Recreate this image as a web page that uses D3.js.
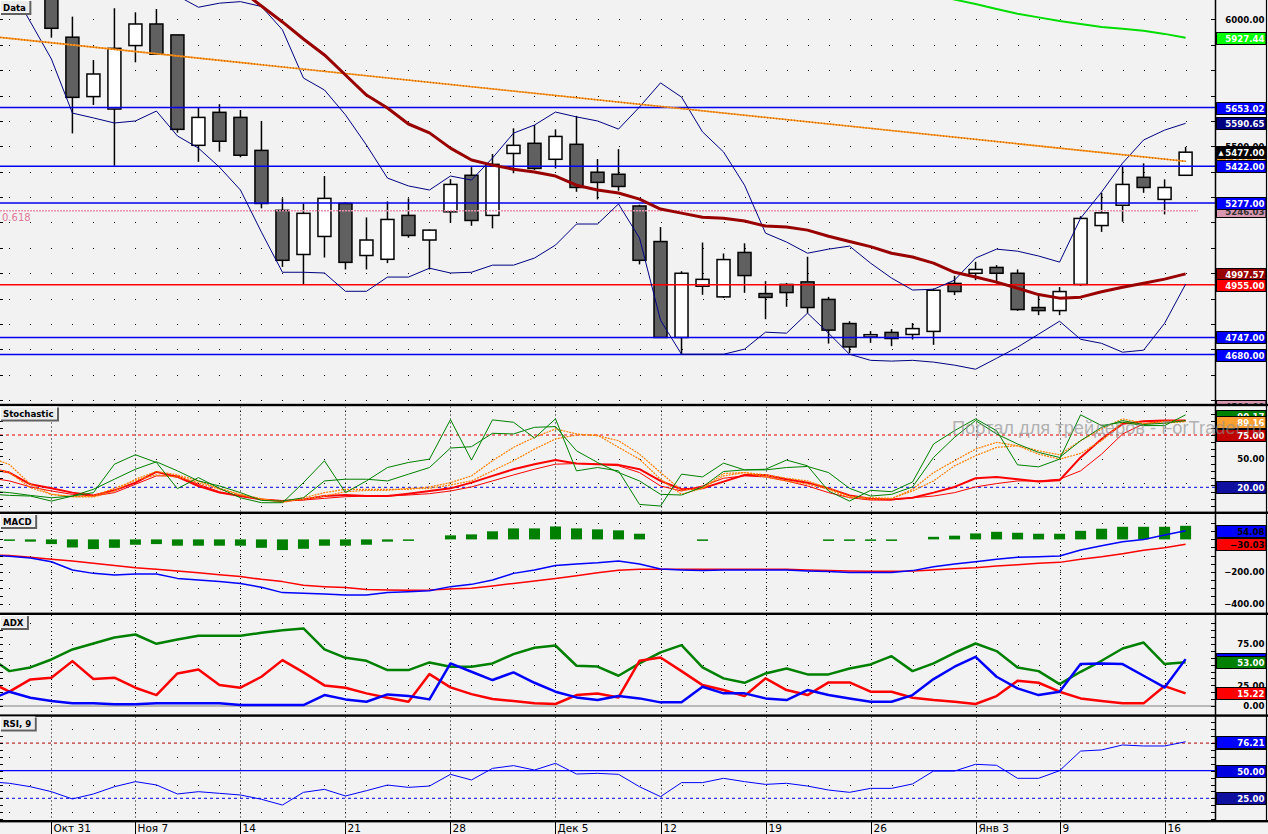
<!DOCTYPE html>
<html><head><meta charset="utf-8">
<script src="https://cdn.jsdelivr.net/npm/d3@7/dist/d3.min.js"></script>
<style>html,body{margin:0;padding:0;background:#f2f2f2;overflow:hidden}svg{display:block}</style>
</head><body>
<svg id="chart" width="1268" height="834"></svg>
<script>
const N = null;
// ---------- DATA ----------
const dates = ["10-26","10-27","10-28","10-31","11-01","11-02","11-03",
"11-07","11-08","11-09","11-10","11-11","11-14","11-15","11-16","11-17","11-18",
"11-21","11-22","11-23","11-24","11-25","11-28","11-29","11-30","12-01","12-02",
"12-05","12-06","12-07","12-08","12-09","12-12","12-13","12-14","12-15","12-16",
"12-19","12-20","12-21","12-22","12-23","12-26","12-27","12-28","12-29","12-30",
"01-03","01-04","01-05","01-06","01-09","01-10","01-11","01-12","01-13","01-16","01-17"];
const tickDates = ["10-31","11-07","11-14","11-21","11-28","12-05","12-12","12-19","12-26","01-03","01-09","01-16"];
const tickLabels = ["Окт 31","Ноя 7","14","21","28","Дек 5","12","19","26","Янв 3","9","16"];

const openP = [N,N,N,6150,5930,5696,5647,5897,5982,5939,5504,5634,5614,5484,5248,5074,5145,5275,5070,5055,5228,5131,5242,5386,5228,5472,5512,5449,5508,5398,5390,5265,5125,4747,4949,4907,5082,4920,4956,4966,4897,4802,4749,4767,4759,4771,4960,5000,5023,5000,4865,4853,4956,5188,5268,5378,5291,5386];
const highP = [N,N,N,6200,6011,5840,6044,6028,6041,5939,5654,5666,5643,5600,5295,5275,5383,5280,5220,5283,5295,5172,5371,5418,5470,5571,5584,5567,5620,5450,5489,5270,5182,5008,5121,5078,5118,4969,4962,5065,4907,4811,4772,4780,4804,4940,4990,5045,5032,5015,4914,4946,5225,5317,5420,5433,5370,5498];
const lowP = [N,N,N,5928,5551,5663,5424,5831,5860,5554,5439,5479,5457,5256,5025,4957,5062,5015,5015,5040,5140,5015,5199,5187,5177,5394,5407,5413,5321,5291,5325,5035,4747,4680,4915,4903,4923,4819,4868,4842,4723,4686,4726,4713,4739,4718,4914,4973,4960,4852,4835,4835,4950,5163,5203,5317,5232,5386];
const closeP = [N,N,N,5965,5693,5785,5886,5982,5863,5567,5614,5520,5465,5275,5051,5236,5295,5043,5131,5212,5149,5170,5350,5208,5429,5504,5413,5539,5338,5358,5342,5051,4747,5000,4976,5054,4991,4905,4924,4865,4776,4710,4758,4743,4782,4933,4928,5015,5000,4857,4853,4928,5216,5238,5350,5338,5338,5477];

const maRed = [N,N,N,N,N,N,N,N,N,N,N,N,6116,6053,5990,5923,5860,5781,5702,5651,5588,5553,5493,5446,5426,5410,5399,5383,5347,5328,5316,5292,5253,5237,5221,5217,5206,5186,5182,5170,5146,5125,5105,5079,5064,5040,5004,4985,4965,4941,4916,4902,4906,4927,4945,4961,4977,4997.57];
const bbUpper = [N,N,N,N,N,N,N,N,N,6093,6048,6064,6070,6051,5959,5769,5722,5624,5505,5375,5344,5328,5383,5367,5454,5552,5584,5635,5616,5600,5568,5655,5750,5694,5557,5478,5347,5158,5123,5079,5095,5107,5040,4981,4934,4937,4973,5060,5095,5087,5068,5044,5217,5320,5434,5525,5564,5590.65];
const bbLower = [N,6136,5990,5844,5631,5612,5592,5600,5639,5541,5493,5418,5328,5162,5004,5004,5001,4929,4929,4985,4985,5020,5001,5004,5032,5032,5060,5111,5194,5194,5273,5139,4815,4681,4681,4681,4701,4768,4764,4843,4764,4681,4657,4654,4657,4650,4638,4622,4665,4709,4760,4811,4740,4724,4689,4697,4803,4957];
const maGreen = [N,N,N,N,N,N,N,N,N,N,N,N,N,N,N,N,N,N,N,N,N,N,N,N,N,N,N,N,N,N,N,N,N,N,N,N,N,N,N,N,N,N,N,N,N,6100,6078,6061,6041,6022,6008,5994,5982,5970,5963,5955,5943,5927.44];
const trendDates = ["10-26","01-17"];
const trendValues = [5934, 5441];
const levelValues = [5653.02, 5422, 5277, 4955, 4747, 4680];
const fibValue = 5246.03, fibText = "0.618", fibLowValue = 4500;

const stochK1 = [13,11.5,10.8,5.5,10.8,14.4,44.3,54.2,46.1,18.6,30.2,18.9,9,3.8,3.8,24.9,47.9,14.4,26.7,40.8,46.1,49.6,91.2,48.6,90.9,88.4,71.8,92,37.3,40.8,37.3,2,0.3,33.8,30.9,45.4,38.3,39,48.6,42.6,16.1,5.5,16.8,15.4,25.6,65.5,79.6,92,79.6,43.6,41.5,49.6,96.2,84.9,88.4,84.9,84.9,96.2];
const stochD1 = [16,14.4,11.5,9,10.8,17.9,28.5,39,46.8,37.3,26.7,21.4,14.4,6.2,5.5,9,26.7,28.5,28.5,26.7,33.8,40.8,61.3,62.7,76.8,76.1,83.1,83.8,58.4,46.1,35.5,26.7,12.6,11.9,20.4,36.6,38.3,38.3,40.8,41.9,35.5,18.9,10.8,12.6,20.4,51.4,72.6,90.2,76.1,65.5,56.7,51.4,69,83.1,90.2,86,87.4,90.17];
const stochK2 = [52,44,23.2,12.6,10.1,9.8,16.1,28.5,36.6,33,26.7,18.9,12.6,8,3.8,9,14.4,17.9,17.9,17.9,17.9,20.4,24.9,32,47.9,62,72.6,81.4,76.1,74.3,69,54.9,35.5,16.8,18.9,34.5,35.5,33,29.5,26.7,18.9,10.8,7.3,8,17.9,35.5,47.9,60.2,67.3,63.8,58.4,54.2,69,81.4,92,87.4,87.4,89.16];
const stochD2 = [40,35.5,19.6,12.6,10.1,10.8,18.9,27.4,33,30.9,24.9,17.9,11.9,7.3,5.5,7.3,10.8,15.4,16.8,16.8,18.9,18.9,22.5,26.7,37.3,47.9,60.2,70.8,75,75,62,49.6,28.5,12.6,18.9,32,35.5,30.9,26.7,23.2,17.9,9.1,9.1,8.4,16.1,26.7,42.6,53.2,62,63.7,54.9,49.6,55.6,69,88.4,86.7,89.5,89.5];
const stochK3 = [40,35.5,23.2,18.9,14.4,11.5,16.8,24.9,36.2,30.9,21.4,14.4,10.8,7.3,5.5,7.3,10.8,11.9,10.8,10.8,13.3,16.1,18.9,24.9,32,39,44.3,48.6,45,44.3,43.6,39,26.7,17.9,18.9,26,33,33,28.5,24.9,18.9,11.5,8,7.3,9.1,14.4,20.4,29.5,30.9,28.5,26,27.4,51.4,70.8,86.7,89.5,90.2,90.2];
const stochD3 = [30,26.7,20.4,16.1,12.6,10.8,14.4,23.2,32,32,23.2,15.4,10.8,7.3,5.5,6.6,8.4,10.1,10.8,10.8,11.9,13.3,16.1,20.4,26.7,33,39,44.3,45,44.3,42.6,35.5,21.4,16.1,21.4,29.5,32,30.9,26.7,21.4,14.4,9.1,6.6,6.6,9.1,10.8,14.4,20.4,23.9,26.7,26.7,28.5,37.3,54.9,76.1,86.7,89.5,90.2];
const stochLevels = [75, 20];

const macdLine = [-96,-104,-115,-138,-189,-210,-220,-214,-214,-241,-251,-261,-272,-296,-329,-333,-337,-344,-344,-329,-323,-317,-292,-278,-251,-210,-189,-162,-152,-144,-133,-152,-183,-189,-193,-189,-189,-189,-189,-195,-199,-204,-204,-204,-193,-169,-152,-138,-123,-111,-107,-103,-65,-39,-14,0,27,54.08];
const macdSignal = [-94,-100,-111,-123,-133,-148,-162,-175,-185,-195,-206,-218,-230,-247,-261,-284,-292,-298,-309,-313,-315,-313,-307,-302,-288,-272,-257,-241,-224,-206,-191,-185,-185,-185,-185,-185,-185,-185,-185,-189,-193,-195,-197,-197,-195,-189,-181,-175,-164,-156,-148,-142,-123,-107,-88,-67,-51,-30.03];
const macdHist = [0,-3,-14,-29,-50,-60,-52,-33,-29,-39,-39,-39,-39,-52,-66,-58,-39,-39,-33,-14,-2,0,25,31,50,68,68,80,68,62,56,35,0,0,-2,0,0,0,0,0,-1,-4,-1,-1,0,16,23,37,47,41,35,35,53,66,78,78,78,84];

const adxLine = [60,42.2,46.7,56.3,68.4,75.6,82.9,86.5,75.2,80.5,84.9,84.9,84.9,88.5,91.7,93.8,68.4,58.3,54.7,43.4,43.4,52.7,47.5,47.5,51.5,62.8,70.4,73.2,48.7,47.7,36.6,51.5,64.8,73.6,46.7,33.4,28.1,39.4,45.4,38.2,38.2,45.4,50.3,60.3,42.2,51.5,64.4,75.6,66.4,46.7,42.2,26.5,41.4,54.7,69.6,76.8,50.7,53];
const diMinus = [30,17.3,32.2,34.2,54.3,32.6,34.2,22.1,13.2,39.4,44.2,25.3,22.1,35.4,55.5,40.6,24.9,22.1,15.3,10,5.2,38.6,22.5,14.4,8.4,6,3.2,2.4,13.2,15,10.4,54.7,58.7,42.2,25.3,19.3,12,33.4,19.3,13.2,28.5,28.5,17.3,17.3,10,7.2,5.2,2.4,12,30.5,28.1,17.3,9.2,6,3.2,3.2,24.1,15.22];
const diPlus = [7,17.3,10,6,3.2,3.2,2,2,3.2,3.2,3.2,3.2,1.2,1.2,1.2,1.2,13.2,8,5.2,14,12,8,51.5,41.4,31.4,40.6,28.1,17.3,10.4,7.2,12,9.2,4.4,4.4,23.3,15.3,15.3,9.2,7.2,19.3,13.2,9.2,5.2,5.2,13.2,32.6,47.5,59.5,35.4,21.3,13.2,17.3,50.7,51.5,50.7,36.6,22.5,56.7];

const rsi9 = [40.1,38.6,35.5,31,24.4,28.9,35.5,40.1,37.1,28.9,31,29.5,28,24.1,18.9,30.4,33.1,27.1,31.9,37,34.9,36.1,46.7,41.6,52.1,54.6,50.6,56.7,47,47.6,46.7,35.5,26.5,39.2,39.2,43.1,40.1,37.6,38.6,36.1,32.5,30.4,34,34,38,49.7,49.7,55.8,54.9,43.1,43.1,50,67.8,68.8,73.3,72.4,72.4,76.21];
const rsiLevels = [75, 50, 25];

const mainAxisValues = [6000, 5500, 5000];
const stochAxisValues = [50];
const macdAxisValues = [0, -200, -400];
const adxAxisValues = [0, 25, 50, 75];
const rsiAxisValues = [25, 50, 75];
const panelTitles = ["Data", "Stochastic", "MACD", "ADX", "RSI, 9"];
const watermark = "Портал для трейдеров - ForTrader.ru";

// ---------- RENDER ----------
const W = 1268, H = 834, PR = 1215;
const fmt = d3.format(".2f");
const last = a => a[a.length - 1];
const svg = d3.select("#chart");
svg.append("rect").attr("width", W).attr("height", H).attr("fill", "#f2f2f2");

const xb = d3.scaleBand().domain(dates).range([-22.1, 1196.1]);
const cx = d => xb(d) + xb.bandwidth() / 2;
const ser = arr => arr.map((v, k) => ({ d: dates[k], v }));

const P = {
  main:  { top: 0,     bottom: 404,   y: d3.scaleLinear().domain([4680, 5653.02]).range([354.5, 107.5]) },
  stoch: { top: 406.5, bottom: 511.5, y: d3.scaleLinear().domain([20, 75]).range([487.3, 435]) },
  macd:  { top: 514,   bottom: 612.5, y: d3.scaleLinear().domain([-400, 0]).range([604.1, 539.4]) },
  adx:   { top: 615,   bottom: 714.3, y: d3.scaleLinear().domain([0, 75]).range([706, 644]) },
  rsi:   { top: 716.5, bottom: 820,   y: d3.scaleLinear().domain([25, 50]).range([798.3, 770.7]) }
};
const defs = svg.append("defs");
Object.entries(P).forEach(([k, p]) => {
  defs.append("clipPath").attr("id", "clip-" + k).append("rect")
    .attr("x", 0).attr("y", p.top).attr("width", PR).attr("height", p.bottom - p.top);
  defs.append("clipPath").attr("id", "rclip-" + k).append("rect")
    .attr("x", PR + 1).attr("y", p.top).attr("width", W - PR - 1).attr("height", p.bottom - p.top);
  p.g = svg.append("g").attr("clip-path", `url(#clip-${k})`);
});

function dotRows(p, levels) {
  const pts = [];
  levels.forEach(v => dates.forEach(d => pts.push([Math.round(cx(d)), Math.round(p.y(v))])));
  p.g.append("g").selectAll("rect").data(pts).join("rect")
    .attr("x", d => d[0]).attr("y", d => d[1]).attr("width", 1).attr("height", 1).attr("fill", "#000");
}
function vDots(p) {
  p.g.append("g").selectAll("line").data(tickDates).join("line")
    .attr("x1", d => Math.round(cx(d)) + 0.5).attr("x2", d => Math.round(cx(d)) + 0.5)
    .attr("y1", p.top).attr("y2", p.bottom)
    .attr("stroke", "#000").attr("stroke-width", 1).attr("stroke-dasharray", "1,3");
}
function axisTicks(p, vals) {
  const ys = vals.map(v => p.y(v)).filter(y => y > p.top + 1 && y < p.bottom - 1);
  const g = svg.append("g");
  g.selectAll("line.l").data(ys).join("line").attr("x1", 0).attr("x2", 3)
    .attr("y1", y => Math.round(y) + 0.5).attr("y2", y => Math.round(y) + 0.5).attr("stroke", "#000");
  g.selectAll("line.r").data(ys).join("line").attr("x1", PR - 4).attr("x2", PR)
    .attr("y1", y => Math.round(y) + 0.5).attr("y2", y => Math.round(y) + 0.5).attr("stroke", "#000");
}
function drawLine(p, arr, color, width, dash) {
  const line = d3.line().defined(d => d.v != null).x(d => cx(d.d)).y(d => p.y(d.v));
  const path = p.g.append("path").datum(ser(arr)).attr("d", line).attr("fill", "none")
    .attr("stroke", color).attr("stroke-width", width).attr("stroke-linejoin", "round");
  if (dash) path.attr("stroke-dasharray", dash);
  return path;
}
function hLine(p, v, color, width, dash, x2) {
  const l = p.g.append("line").attr("x1", 0).attr("x2", x2 || PR)
    .attr("y1", p.y(v)).attr("y2", p.y(v)).attr("stroke", color).attr("stroke-width", width);
  if (dash) l.attr("stroke-dasharray", dash);
}

// grids
dotRows(P.main, d3.range(4500, 6001, 100));
dotRows(P.stoch, [0, 25, 50, 100]);
dotRows(P.macd, [100, -100, -200, -300, -400]);
dotRows(P.adx, [25, 50, 75, 100]);
dotRows(P.rsi, [12.5, 37.5, 62.5, 87.5]);
["stoch", "macd", "adx", "rsi"].forEach(k => vDots(P[k]));
axisTicks(P.main, d3.range(4400, 6101, 100));
axisTicks(P.stoch, d3.range(0, 101, 7.5));
axisTicks(P.macd, d3.range(-450, 101, 50));
axisTicks(P.adx, d3.range(0, 101, 25 / 3));
axisTicks(P.rsi, d3.range(0, 101, 6.25));

// ---- main panel ----
const ym = P.main.y;
const candles = dates.map((d, k) => ({ d, o: openP[k], h: highP[k], l: lowP[k], c: closeP[k] })).filter(c => c.o != null);
const gC = P.main.g.append("g");
gC.selectAll("line").data(candles).join("line")
  .attr("x1", c => cx(c.d)).attr("x2", c => cx(c.d))
  .attr("y1", c => ym(c.h)).attr("y2", c => ym(c.l))
  .attr("stroke", "#000").attr("stroke-width", 1.5);
gC.selectAll("rect").data(candles).join("rect")
  .attr("x", c => cx(c.d) - 6.5).attr("width", 13)
  .attr("y", c => ym(Math.max(c.o, c.c)))
  .attr("height", c => Math.max(1, Math.abs(ym(c.o) - ym(c.c))))
  .attr("fill", c => c.c >= c.o ? "#ffffff" : "#606060")
  .attr("stroke", "#000").attr("stroke-width", 1.5);

const levelColors = ["#0000ee", "#0000ee", "#0000ee", "#ff0000", "#0000ee", "#0000ee"];
levelValues.forEach((v, k) => hLine(P.main, v, levelColors[k], 1.5));
hLine(P.main, fibValue, "#e890a8", 1.5, "2,1", 1198);
P.main.g.append("text").attr("x", 2).attr("y", ym(fibValue) + 10.5).text(fibText)
  .attr("font-family", "DejaVu Sans").attr("font-size", 10).attr("fill", "#e07898");

drawLine(P.main, bbUpper, "#000080", 1);
drawLine(P.main, bbLower, "#000080", 1);
const trendLine = d3.line().x(d => cx(d[0])).y(d => ym(d[1]));
P.main.g.append("path").datum(trendDates.map((d, k) => [d, trendValues[k]])).attr("d", trendLine)
  .attr("fill", "none").attr("stroke", "#ff9a20").attr("stroke-width", 1.6);
P.main.g.append("path").datum(trendDates.map((d, k) => [d, trendValues[k]])).attr("d", trendLine)
  .attr("fill", "none").attr("stroke", "#d06000").attr("stroke-width", 1.6).attr("stroke-dasharray", "1,2");
drawLine(P.main, maRed, "#990000", 3);
drawLine(P.main, maGreen, "#00dd00", 2);

// ---- stochastic ----
const ys = P.stoch.y;
hLine(P.stoch, stochLevels[0], "#e00000", 1, "3,3");
hLine(P.stoch, stochLevels[1], "#0000e0", 1, "3,3");
drawLine(P.stoch, stochD3, "#ff0000", 1);
drawLine(P.stoch, stochK3, "#ff0000", 2);
drawLine(P.stoch, stochD2, "#ff8000", 1.2, "2,1");
drawLine(P.stoch, stochK2, "#ff8000", 1.2, "2,1");
drawLine(P.stoch, stochD1, "#008000", 1);
drawLine(P.stoch, stochK1, "#008000", 1);

// ---- MACD ----
const yc = P.macd.y;
const hist = ser(macdHist).filter(h => h.v !== 0);
P.macd.g.append("g").selectAll("rect").data(hist).join("rect")
  .attr("x", h => cx(h.d) - 5.5).attr("width", 11)
  .attr("y", h => h.v > 0 ? Math.min(yc(h.v), yc(0) - 1.5) : yc(0))
  .attr("height", h => Math.max(1.5, Math.abs(yc(h.v) - yc(0))))
  .attr("fill", "#008000");
drawLine(P.macd, macdSignal, "#ff0000", 1.5);
drawLine(P.macd, macdLine, "#0000ff", 1.5);

// ---- ADX ----
hLine(P.adx, 0, "#808080", 1.2);
drawLine(P.adx, adxLine, "#008000", 2.5);
drawLine(P.adx, diMinus, "#ff0000", 2.5);
drawLine(P.adx, diPlus, "#0000ff", 2.5);

// ---- RSI ----
hLine(P.rsi, rsiLevels[0], "#b00000", 1, "3,3");
hLine(P.rsi, rsiLevels[1], "#0000ff", 1.2);
hLine(P.rsi, rsiLevels[2], "#0000e0", 1, "3,3");
drawLine(P.rsi, rsi9, "#0000ff", 1);

// ---------- right axis ----------
const labelFont = { family: "DejaVu Sans", size: 8.6 };
Object.entries(P).forEach(([k, p]) => { p.ag = svg.append("g").attr("clip-path", `url(#rclip-${k})`); });
function axisText(p, vals) {
  vals.forEach(v => {
    const y = p.y(v);
    p.ag.append("text").attr("x", 1264.5).attr("y", y + 3.2).attr("text-anchor", "end")
      .attr("font-family", labelFont.family).attr("font-weight", "bold").attr("font-size", labelFont.size)
      .attr("fill", "#000").text(fmt(v));
  });
}
function box(p, y, text, bg, fg, prefix) {
  const g = p.ag.append("g");
  g.append("rect").attr("x", 1216.5).attr("y", Math.round(y) - 6 + 0.5).attr("width", 49.5).attr("height", 12)
    .attr("fill", bg).attr("stroke", "#000").attr("stroke-width", 1);
  g.append("text").attr("x", 1264.5).attr("y", Math.round(y) + 3.6).attr("text-anchor", "end")
    .attr("font-family", labelFont.family).attr("font-weight", "bold").attr("font-size", labelFont.size)
    .attr("fill", fg).text(text);
  if (prefix) g.append("text").attr("x", 1218.5).attr("y", Math.round(y) + 3.2).attr("font-family", "DejaVu Sans")
    .attr("font-size", 6.5).attr("fill", fg).text(prefix);
}
axisText(P.main, mainAxisValues);
box(P.main, ym(last(maGreen)), fmt(last(maGreen)), "#00ff00", "#ffffff");
box(P.main, ym(levelValues[0]), fmt(levelValues[0]), "#0000ff", "#ffffff");
box(P.main, ym(last(bbUpper)), fmt(last(bbUpper)), "#000080", "#ffffff");
box(P.main, ym(last(trendValues)), fmt(last(trendValues)), "#ff9a20", "#ffffff");
box(P.main, ym(last(closeP)), fmt(last(closeP)), "#000000", "#ffffff", "▲");
box(P.main, ym(levelValues[1]), fmt(levelValues[1]), "#0000ff", "#ffffff");
box(P.main, ym(fibValue), fmt(fibValue), "#d898b0", "#303030");
box(P.main, ym(levelValues[2]), fmt(levelValues[2]), "#0000ff", "#ffffff");
box(P.main, ym(last(bbLower)), fmt(last(bbLower)), "#000080", "#ffffff");
box(P.main, ym(last(maRed)), fmt(last(maRed)), "#990000", "#ffffff");
box(P.main, ym(levelValues[3]), fmt(levelValues[3]), "#ff0000", "#ffffff");
box(P.main, ym(levelValues[4]), fmt(levelValues[4]), "#0000ff", "#ffffff");
box(P.main, ym(levelValues[5]), fmt(levelValues[5]), "#0000ff", "#ffffff");
box(P.main, ym(fibLowValue) + 6, fmt(fibLowValue), "#d898b0", "#303030");

axisText(P.stoch, stochAxisValues);
box(P.stoch, ys(last(stochD1)) - 5, fmt(last(stochD1)), "#008000", "#ffffff");
box(P.stoch, ys(last(stochK2)), fmt(last(stochK2)), "#ffa030", "#ffffff");
box(P.stoch, ys(stochLevels[0]), fmt(stochLevels[0]), "#c00000", "#ffffff");
box(P.stoch, ys(stochLevels[1]), fmt(stochLevels[1]), "#1010a0", "#ffffff");

axisText(P.macd, macdAxisValues);
box(P.macd, yc(last(macdLine)), fmt(last(macdLine)), "#0000ff", "#000000");
box(P.macd, yc(last(macdSignal)), fmt(last(macdSignal)), "#ff0000", "#000000");

const ya = P.adx.y;
axisText(P.adx, adxAxisValues);
box(P.adx, ya(last(diPlus)), fmt(last(diPlus)), "#0000ff", "#ffffff");
box(P.adx, ya(last(adxLine)), fmt(last(adxLine)), "#008000", "#ffffff");
box(P.adx, ya(last(diMinus)), fmt(last(diMinus)), "#ff0000", "#ffffff");

const yr = P.rsi.y;
axisText(P.rsi, rsiAxisValues);
box(P.rsi, yr(rsiLevels[0]), fmt(rsiLevels[0]), "#a00000", "#ffffff");
box(P.rsi, yr(last(rsi9)), fmt(last(rsi9)), "#0000ff", "#ffffff");
box(P.rsi, yr(rsiLevels[1]), fmt(rsiLevels[1]), "#0000e0", "#ffffff");
box(P.rsi, yr(rsiLevels[2]), fmt(rsiLevels[2]), "#1010a0", "#ffffff");

// right axis borders
svg.append("line").attr("x1", PR + 0.5).attr("x2", PR + 0.5).attr("y1", 0).attr("y2", 821).attr("stroke", "#000").attr("stroke-width", 1.5);
svg.append("line").attr("x1", 1266.5).attr("x2", 1266.5).attr("y1", 0).attr("y2", 821).attr("stroke", "#000").attr("stroke-width", 1.2);

// separators
[403.8, 511.6, 612.6, 714.4, 820].forEach(y =>
  svg.append("rect").attr("x", 0).attr("y", y).attr("width", W).attr("height", 2.4).attr("fill", "#000"));

// bottom axis
const bx = svg.append("g");
tickDates.forEach((d, k) => {
  const xx = Math.round(cx(d)) + 0.5;
  bx.append("line").attr("x1", xx).attr("x2", xx).attr("y1", 822).attr("y2", 834).attr("stroke", "#000");
  bx.append("text").attr("x", xx + 2).attr("y", 832).attr("font-family", "DejaVu Sans").attr("font-size", 10.5)
    .attr("fill", "#000").text(tickLabels[k]);
});

// panel titles
const titleTops = [0, 406.5, 514, 615, 716.5];
panelTitles.forEach((t, k) => {
  const g = svg.append("g");
  const tx = g.append("text").attr("x", 3).attr("y", titleTops[k] + 10.5)
    .attr("font-family", "DejaVu Sans").attr("font-weight", "bold").attr("font-size", 8.6).attr("fill", "#000").text(t);
  const w = tx.node().getComputedTextLength() + 6;
  g.insert("rect", "text").attr("x", 0.5).attr("y", titleTops[k] + 0.5).attr("width", w).attr("height", 12.5)
    .attr("fill", "#ececec").attr("stroke", "#ffffff").attr("stroke-width", 1);
  g.append("path").attr("d", `M${w + 1.5},${titleTops[k] + 1}V${titleTops[k] + 14}H1`)
    .attr("fill", "none").attr("stroke", "#606060").attr("stroke-width", 2);
});

// watermark
svg.append("text").attr("x", 952).attr("y", 434).attr("font-family", "Liberation Sans").attr("font-size", 17.5)
  .attr("textLength", 310).attr("lengthAdjust", "spacingAndGlyphs")
  .attr("fill", "#8c8c8c").attr("fill-opacity", 0.65).text(watermark);
</script>
</body></html>
